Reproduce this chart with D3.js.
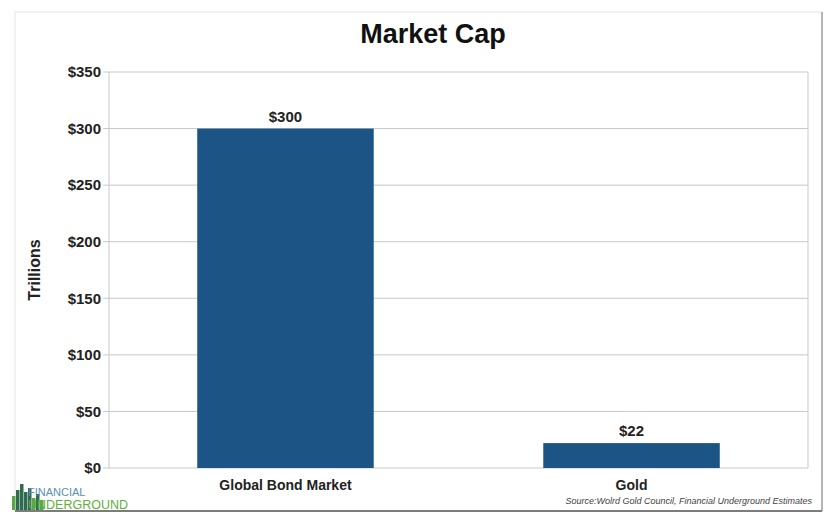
<!DOCTYPE html>
<html>
<head>
<meta charset="utf-8">
<script src="https://cdn.jsdelivr.net/npm/d3@7"></script>
<style>
  body { margin: 0; background: #fff; font-family: "Liberation Sans", Arial, sans-serif; }
</style>
</head>
<body>
<div id="chart"></div>
<script>
// chart data
const categories = ['Global Bond Market', 'Gold'];
const values = [300, 22];
const tickValues = [0, 50, 100, 150, 200, 250, 300, 350];

const width = 837;
const height = 526;
const margin = { top: 72, right: 29, bottom: 58, left: 109 };

const svg = d3.select('#chart')
  .append('svg')
  .attr('width', width)
  .attr('height', height);

// frame around the whole chart
svg.append('rect')
  .attr('x', 15).attr('y', 12)
  .attr('width', 807).attr('height', 499)
  .attr('fill', '#fff')
  .attr('stroke', '#e6e6e6');
svg.append('line')
  .attr('x1', 15).attr('x2', 822).attr('y1', 511).attr('y2', 511)
  .attr('stroke', '#555').attr('stroke-width', 1.5);
svg.append('line')
  .attr('x1', 822).attr('x2', 822).attr('y1', 12).attr('y2', 511)
  .attr('stroke', '#777');

const x = d3.scaleBand()
  .domain(categories)
  .range([margin.left, width - margin.right])
  .paddingInner(0.49)
  .paddingOuter(0.255);

const y = d3.scaleLinear()
  .domain([0, 350])
  .range([height - margin.bottom, margin.top]);

// gridlines
svg.append('g')
  .selectAll('line')
  .data(tickValues)
  .join('line')
  .attr('x1', margin.left - 6)
  .attr('x2', width - margin.right)
  .attr('y1', d => y(d))
  .attr('y2', d => y(d))
  .attr('stroke', '#c8c8c8');

// plot border (left and right)
svg.append('line')
  .attr('x1', margin.left).attr('x2', margin.left)
  .attr('y1', margin.top).attr('y2', y(0))
  .attr('stroke', '#c8c8c8');
svg.append('line')
  .attr('x1', width - margin.right).attr('x2', width - margin.right)
  .attr('y1', margin.top).attr('y2', y(0))
  .attr('stroke', '#c8c8c8');

// y tick labels
svg.append('g')
  .selectAll('text')
  .data(tickValues)
  .join('text')
  .attr('x', margin.left - 8)
  .attr('y', d => y(d))
  .attr('dy', '0.35em')
  .attr('text-anchor', 'end')
  .attr('font-size', 15)
  .attr('font-weight', 'bold')
  .attr('fill', '#222')
  .text(d => '$' + d);

// bars
svg.append('g')
  .selectAll('rect')
  .data(values)
  .join('rect')
  .attr('x', (d, i) => x(categories[i]))
  .attr('y', d => y(d))
  .attr('width', x.bandwidth())
  .attr('height', d => y(0) - y(d))
  .attr('fill', '#1b5485');

// value labels
svg.append('g')
  .selectAll('text')
  .data(values)
  .join('text')
  .attr('x', (d, i) => x(categories[i]) + x.bandwidth() / 2)
  .attr('y', d => y(d) - 7)
  .attr('text-anchor', 'middle')
  .attr('font-size', 15)
  .attr('font-weight', 'bold')
  .attr('fill', '#222')
  .text(d => '$' + d);

// category labels
svg.append('g')
  .selectAll('text')
  .data(categories)
  .join('text')
  .attr('x', d => x(d) + x.bandwidth() / 2)
  .attr('y', y(0) + 22)
  .attr('text-anchor', 'middle')
  .attr('font-size', 14)
  .attr('font-weight', 'bold')
  .attr('fill', '#222')
  .text(d => d);

// title
svg.append('text')
  .attr('x', 433).attr('y', 43)
  .attr('text-anchor', 'middle')
  .attr('font-size', 27)
  .attr('font-weight', 'bold')
  .attr('fill', '#111')
  .text('Market Cap');

// y axis title
svg.append('text')
  .attr('transform', 'translate(40,' + (y(175)) + ') rotate(-90)')
  .attr('text-anchor', 'middle')
  .attr('font-size', 16)
  .attr('font-weight', 'bold')
  .attr('fill', '#222')
  .text('Trillions');

// source
svg.append('text')
  .attr('x', 812).attr('y', 504)
  .attr('text-anchor', 'end')
  .attr('font-size', 9)
  .attr('font-style', 'italic')
  .attr('fill', '#444')
  .text('Source:Wolrd Gold Council, Financial Underground Estimates');

// logo
const logo = svg.append('g');
[[12, 14], [16, 20], [20, 26], [24, 18], [28, 22], [32, 12], [36, 16], [40, 10]].forEach(function(b) {
  logo.append('rect')
    .attr('x', b[0]).attr('y', 510 - b[1])
    .attr('width', 3.5).attr('height', b[1])
    .attr('fill', b[1] > 15 ? '#2f6b4e' : '#5aa64b');
});
logo.append('text')
  .attr('x', 28).attr('y', 496)
  .attr('font-size', 11)
  .attr('fill', '#5b8fb4')
  .text('FINANCIAL');
logo.append('text')
  .attr('x', 28).attr('y', 509)
  .attr('font-size', 12.5)
  .attr('fill', '#5fae3c')
  .text('UNDERGROUND');
</script>
</body>
</html>
